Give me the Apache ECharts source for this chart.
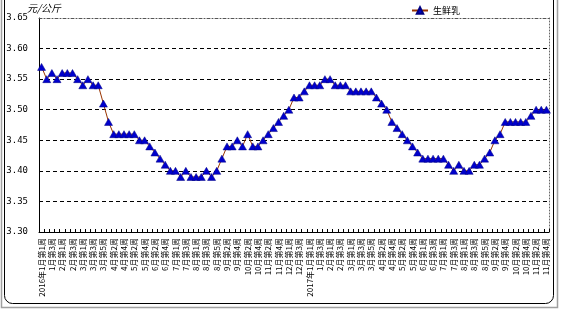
<!DOCTYPE html>
<html><head><meta charset="utf-8">
<script src="https://cdn.jsdelivr.net/npm/echarts@6/dist/echarts.min.js"></script>
<style>html,body{margin:0;padding:0;background:#fff}#c{width:561px;height:312px}</style>
</head><body><div id="c"></div><script>
var categories = [
 "2016年1月第1周","1月第2周","1月第3周","1月第4周",
 "2月第1周","2月第2周","2月第3周","2月第4周",
 "3月第1周","3月第2周","3月第3周","3月第4周","3月第5周",
 "4月第1周","4月第2周","4月第3周","4月第4周",
 "5月第1周","5月第2周","5月第3周","5月第4周",
 "6月第1周","6月第2周","6月第3周","6月第4周","6月第5周",
 "7月第1周","7月第2周","7月第3周","7月第4周",
 "8月第1周","8月第2周","8月第3周","8月第4周","8月第5周",
 "9月第1周","9月第2周","9月第3周","9月第4周",
 "10月第1周","10月第2周","10月第3周","10月第4周",
 "11月第1周","11月第2周","11月第3周","11月第4周","11月第5周",
 "12月第1周","12月第2周","12月第3周","12月第4周",
 "2017年1月第1周","1月第2周","1月第3周","1月第4周",
 "2月第1周","2月第2周","2月第3周","2月第4周",
 "3月第1周","3月第2周","3月第3周","3月第4周","3月第5周",
 "4月第1周","4月第2周","4月第3周","4月第4周",
 "5月第1周","5月第2周","5月第3周","5月第4周","5月第5周",
 "6月第1周","6月第2周","6月第3周","6月第4周",
 "7月第1周","7月第2周","7月第3周","7月第4周",
 "8月第1周","8月第2周","8月第3周","8月第4周","8月第5周",
 "9月第1周","9月第2周","9月第3周","9月第4周",
 "10月第1周","10月第2周","10月第3周","10月第4周",
 "11月第1周","11月第2周","11月第3周","11月第4周"
];
var seriesName = "生鲜乳";
var milkPrice = [
 3.57,3.55,3.56,3.55,3.56,3.56,3.56,3.55,3.54,3.55,
 3.54,3.54,3.51,3.48,3.46,3.46,3.46,3.46,3.46,3.45,
 3.45,3.44,3.43,3.42,3.41,3.40,3.40,3.39,3.40,3.39,
 3.39,3.39,3.40,3.39,3.40,3.42,3.44,3.44,3.45,3.44,
 3.46,3.44,3.44,3.45,3.46,3.47,3.48,3.49,3.50,3.52,
 3.52,3.53,3.54,3.54,3.54,3.55,3.55,3.54,3.54,3.54,
 3.53,3.53,3.53,3.53,3.53,3.52,3.51,3.50,3.48,3.47,
 3.46,3.45,3.44,3.43,3.42,3.42,3.42,3.42,3.42,3.41,
 3.40,3.41,3.40,3.40,3.41,3.41,3.42,3.43,3.45,3.46,
 3.48,3.48,3.48,3.48,3.48,3.49,3.50,3.50,3.50
];
var yMin = 3.30, yMax = 3.65, yStep = 0.05;
var yUnit = "元/公斤";

var chart = echarts.init(document.getElementById('c'), null, {renderer:'canvas'});
chart.setOption({
  animation: false,
  backgroundColor: '#fff',
  grid: {left: 39, right: 12, top: 18, bottom: 80, containLabel: false},
  legend: {
    data: [seriesName], left: 406, top: 1, itemWidth: 16, itemHeight: 8, itemGap: 4,
    textStyle: {fontSize: 9, color: '#000', fontFamily: 'Noto Sans CJK SC'}
  },
  xAxis: [{
    type: 'category', data: categories, boundaryGap: true,
    axisLine: {lineStyle: {color: '#000', width: 1}},
    axisTick: {show: true, inside: true, length: 3, interval: 0, lineStyle: {color: '#000'}},
    axisLabel: {interval: 1, rotate: 90, margin: 6, fontSize: 8, color: '#000', fontFamily: 'Noto Sans CJK SC'},
    splitLine: {show: false}
  }, {
    type: 'category', data: categories, position: 'top', boundaryGap: true,
    axisLine: {show: true, lineStyle: {color: '#555', width: 1, type: [3,2,1,2]}},
    axisTick: {show: false}, axisLabel: {show: false}, splitLine: {show: false}
  }],
  yAxis: [{
    type: 'value', min: yMin, max: yMax, interval: yStep,
    axisLine: {show: true, lineStyle: {color: '#000', width: 1}},
    axisTick: {show: false},
    axisLabel: {margin: 11, fontSize: 9, color: '#000', fontFamily: 'DejaVu Sans Mono',
      formatter: function(v){ return v.toFixed(2); }},
    splitLine: {show: true, showMinLine: false, showMaxLine: false,
      lineStyle: {color: '#000', width: 1, type: [4,3]}}
  }, {
    type: 'value', min: yMin, max: yMax, interval: yStep, position: 'right',
    axisLine: {show: true, lineStyle: {color: '#666', width: 1, type: [1,2]}},
    axisTick: {show: false}, axisLabel: {show: false}, splitLine: {show: false}
  }],
  series: [{
    name: seriesName, type: 'line', data: milkPrice,
    xAxisIndex: 0, yAxisIndex: 0,
    symbol: 'triangle', symbolSize: [8, 7], showAllSymbol: true,
    lineStyle: {color: '#993300', width: 1},
    itemStyle: {color: '#0000cc', borderColor: '#000080', borderWidth: 0.5}
  }],
  graphic: [
    {type: 'rect', silent: true, z: -1,
     shape: {x: 1.5, y: -5, width: 556, height: 312.5},
     style: {fill: 'none', stroke: '#a0a0a0', lineWidth: 1.5}},
    {type: 'rect', silent: true, z: -1,
     shape: {x: 4.5, y: -12, width: 549, height: 315.5, r: 8},
     style: {fill: 'none', stroke: '#000', lineWidth: 1}},
    {type: 'text', left: 27, top: 3, silent: true,
     style: {text: yUnit, font: 'italic 10px "Noto Sans CJK SC"', fill: '#000'}}
  ]
});
</script></body></html>
